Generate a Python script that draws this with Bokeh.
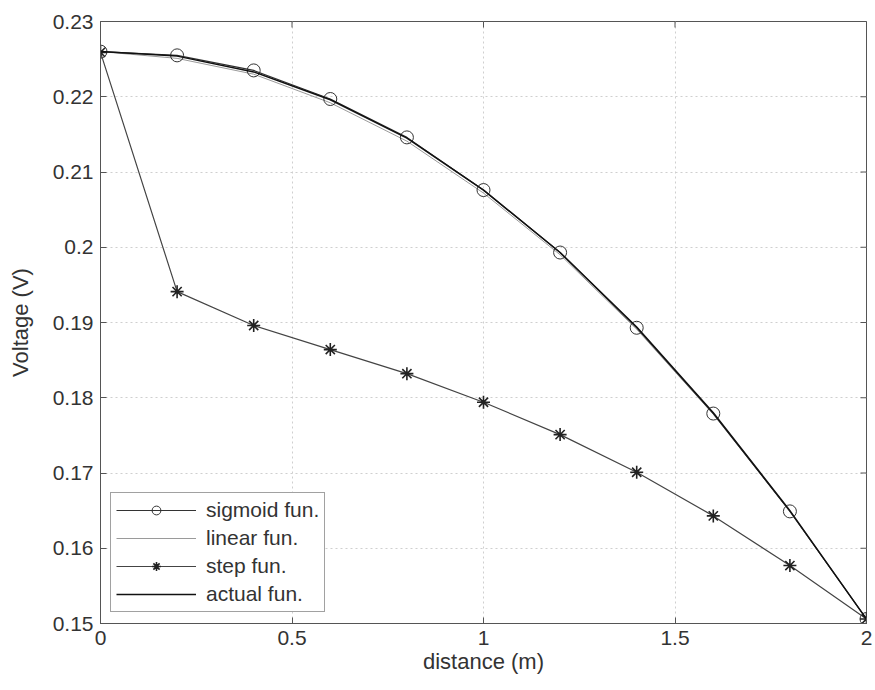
import math
from bokeh.plotting import figure
from bokeh.models import (Range1d, FixedTicker, CustomJSTickFormatter,
                          Legend, LegendItem)
from bokeh.embed import file_html
from bokeh.resources import INLINE

# ---- data ----
distance = [0.0, 0.2, 0.4, 0.6, 0.8, 1.0, 1.2, 1.4, 1.6, 1.8, 2.0]
sigmoid_fun = [0.2260, 0.2255, 0.2235, 0.2197, 0.2146, 0.2076, 0.1993, 0.1893, 0.1779, 0.1649, 0.1506]
linear_fun = [0.2260, 0.2251, 0.2230, 0.2192, 0.2141, 0.2072, 0.1990, 0.1891, 0.1778, 0.1649, 0.1506]
step_fun = [0.2259, 0.1941, 0.1896, 0.1864, 0.1832, 0.1794, 0.1751, 0.1701, 0.1643, 0.1577, 0.1506]
actual_fun = [0.2260, 0.2254, 0.2233, 0.2196, 0.2145, 0.2076, 0.1993, 0.1894, 0.1780, 0.1650, 0.1506]

x_ticks = [0, 0.5, 1, 1.5, 2]
y_ticks = [0.15, 0.16, 0.17, 0.18, 0.19, 0.20, 0.21, 0.22, 0.23]

FONT = "Liberation Sans"
TICK_SIZE = "21px"
LABEL_SIZE = "22px"
AX_COLOR = "#555555"

x_min, x_max = x_ticks[0], x_ticks[-1]
y_min, y_max = y_ticks[0], y_ticks[-1]

p = figure(width=872, height=688, output_backend="svg", toolbar_location=None,
           x_range=Range1d(x_min, x_max), y_range=Range1d(y_min, y_max),
           min_border_left=100, min_border_right=6, min_border_top=21, min_border_bottom=65,
           background_fill_color="white", border_fill_color="white")

fmt = CustomJSTickFormatter(code="return Number(tick.toFixed(4)).toString();")

p.xaxis.ticker = FixedTicker(ticks=x_ticks)
p.yaxis.ticker = FixedTicker(ticks=y_ticks)
p.xgrid.ticker = FixedTicker(ticks=x_ticks)
p.ygrid.ticker = FixedTicker(ticks=y_ticks)
p.xaxis.formatter = fmt
p.yaxis.formatter = fmt

for ax in (p.xaxis[0], p.yaxis[0]):
    ax.major_tick_in = 6
    ax.major_tick_out = 0
    ax.minor_tick_in = 0
    ax.minor_tick_out = 0
    ax.axis_line_color = AX_COLOR
    ax.major_tick_line_color = AX_COLOR
    ax.major_label_text_font = FONT
    ax.major_label_text_font_size = TICK_SIZE
    ax.major_label_text_color = "#333333"
    ax.major_label_standoff = 7
    ax.axis_label_text_font = FONT
    ax.axis_label_text_font_size = LABEL_SIZE
    ax.axis_label_text_font_style = "normal"
    ax.axis_label_text_color = "#333333"

p.xaxis.axis_label = "distance (m)"
p.xaxis.axis_label_standoff = 1
p.yaxis.axis_label = "Voltage (V)"
p.yaxis.axis_label_standoff = 17

p.xgrid.grid_line_color = "#cfcfcf"
p.ygrid.grid_line_color = "#cfcfcf"
p.xgrid.grid_line_dash = "2 3"
p.ygrid.grid_line_dash = "2 3"
p.outline_line_color = AX_COLOR

# MATLAB-style inward ticks on the top and right edges of the box
p.scatter(x_ticks, [y_max] * len(x_ticks), marker="dash", angle=math.pi / 2, size=12,
          line_color=AX_COLOR, line_width=1)
p.scatter([x_max] * len(y_ticks), y_ticks, marker="dash", size=12,
          line_color=AX_COLOR, line_width=1)

# ---- series ----
r_lin = p.line(distance, linear_fun, line_color="#9a9a9a", line_width=1)
r_sig_l = p.line(distance, sigmoid_fun, line_color="#333333", line_width=1.2)
r_sig_m = p.scatter(distance, sigmoid_fun, marker="circle", size=13, fill_color=None,
                    line_color="#333333", line_width=1)
r_step_l = p.line(distance, step_fun, line_color="#444444", line_width=1.2)
r_step_m = p.scatter(distance, step_fun, marker="asterisk", size=13,
                     line_color="#222222", line_width=1.6)
r_act = p.line(distance, actual_fun, line_color="#111111", line_width=1.5)

legend = Legend(items=[
    LegendItem(label="sigmoid fun.", renderers=[r_sig_l, r_sig_m]),
    LegendItem(label="linear fun.", renderers=[r_lin]),
    LegendItem(label="step fun.", renderers=[r_step_l, r_step_m]),
    LegendItem(label="actual fun.", renderers=[r_act]),
], location=(10, 11))
legend.label_text_font = FONT
legend.label_text_font_size = "21px"
legend.label_text_color = "#333333"
legend.glyph_width = 80
legend.glyph_height = 22
legend.label_height = 22
legend.label_standoff = 10
legend.spacing = 4
legend.padding = 5
legend.margin = 0
legend.border_line_color = "#444444"
legend.border_line_width = 1
legend.background_fill_color = "white"
legend.background_fill_alpha = 1
p.add_layout(legend, "center")

open("out.html", "w").write(file_html(p, INLINE))
